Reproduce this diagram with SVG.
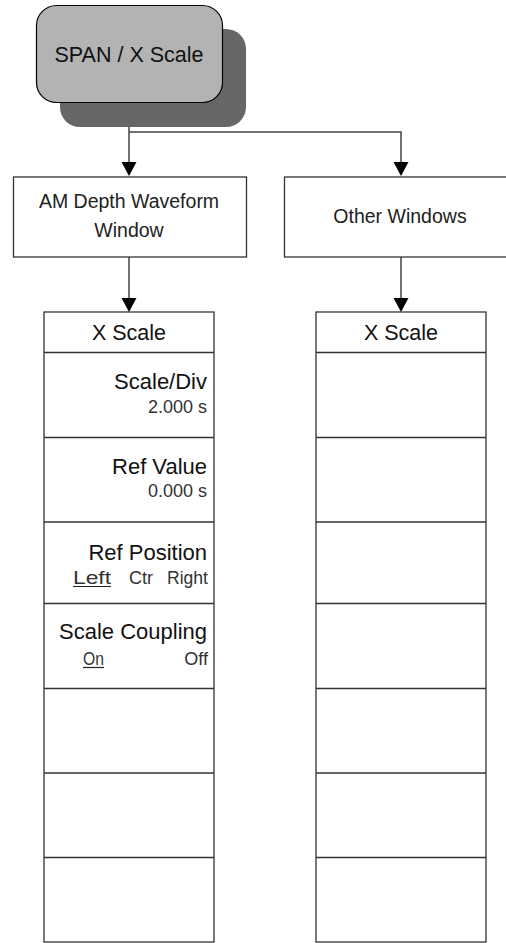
<svg xmlns="http://www.w3.org/2000/svg" width="506" height="943" viewBox="0 0 506 943">
<style>
  text { font-family: "Liberation Sans", Arial, sans-serif; fill: #111; }
  .box { fill: #fff; stroke: #333; stroke-width: 1.3; }
  .div { stroke: #333; stroke-width: 1.3; }
  .conn { fill: none; stroke: #444; stroke-width: 1.5; }
  .lbl { font-size: 22px; text-anchor: end; }
  .val { font-size: 18px; fill: #333; }
  .hdr { font-size: 21.5px; text-anchor: middle; }
  .win { font-size: 19.5px; text-anchor: middle; fill: #222; }
  .ul { stroke: #222; stroke-width: 1.2; }
</style>
<defs>
  <marker id="arr" markerUnits="userSpaceOnUse" markerWidth="16" markerHeight="15" refX="7.5" refY="14" orient="auto-start-reverse" viewBox="0 0 15 14">
    <path d="M0,0 L15,0 L7.5,14 Z" fill="#000"/>
  </marker>
</defs>
<rect width="506" height="943" fill="#fff"/>

<g id="connectors">
  <path class="conn" d="M129,102 V162"/>
  <path d="M121.5,162 L136.5,162 L129,176 Z" fill="#000"/>
  <path class="conn" d="M129,132 H401 V162"/>
  <path d="M393.5,162 L408.5,162 L401,176 Z" fill="#000"/>
  <path class="conn" d="M129,257 V298"/>
  <path d="M121.5,298 L136.5,298 L129,312 Z" fill="#000"/>
  <path class="conn" d="M401,257 V298"/>
  <path d="M393.5,298 L408.5,298 L401,312 Z" fill="#000"/>
</g>

<g id="span-x-scale">
  <rect x="60" y="29" width="186" height="98" rx="20" fill="#666"/>
  <rect x="36.5" y="5.5" width="186" height="97" rx="20" fill="#b3b3b3" stroke="#000" stroke-width="1.2"/>
  <text x="129" y="62" font-size="21.5" text-anchor="middle">SPAN / X Scale</text>
</g>

<g id="am-depth-window">
  <rect class="box" x="13.5" y="177" width="233" height="80"/>
  <text class="win" x="129" y="208">AM Depth Waveform</text>
  <text class="win" x="129" y="237">Window</text>
</g>

<g id="other-windows">
  <rect class="box" x="284.5" y="177" width="233" height="80"/>
  <text class="win" x="400" y="223">Other Windows</text>
</g>

<g id="x-scale-left">
  <rect class="box" x="44" y="312" width="170" height="630"/>
  <line class="div" x1="44" y1="352.5" x2="214" y2="352.5"/>
  <line class="div" x1="44" y1="437.5" x2="214" y2="437.5"/>
  <line class="div" x1="44" y1="522" x2="214" y2="522"/>
  <line class="div" x1="44" y1="603.5" x2="214" y2="603.5"/>
  <line class="div" x1="44" y1="688.5" x2="214" y2="688.5"/>
  <line class="div" x1="44" y1="773" x2="214" y2="773"/>
  <line class="div" x1="44" y1="857.5" x2="214" y2="857.5"/>
  <text class="hdr" x="129" y="340">X Scale</text>
  <text class="lbl" x="207" y="389">Scale/Div</text>
  <text class="val" x="207" y="413" text-anchor="end">2.000 s</text>
  <text class="lbl" x="207" y="474">Ref Value</text>
  <text class="val" x="207" y="497" text-anchor="end">0.000 s</text>
  <text class="lbl" x="207" y="560">Ref Position</text>
  <text class="val" x="73" y="584" textLength="38" lengthAdjust="spacingAndGlyphs">Left</text>
  <line class="ul" x1="73" y1="586.5" x2="111" y2="586.5"/>
  <text class="val" x="129" y="584" textLength="24" lengthAdjust="spacingAndGlyphs">Ctr</text>
  <text class="val" x="167" y="584" textLength="41" lengthAdjust="spacingAndGlyphs">Right</text>
  <text class="lbl" x="207" y="639">Scale Coupling</text>
  <text class="val" x="83" y="665" textLength="21" lengthAdjust="spacingAndGlyphs">On</text>
  <line class="ul" x1="83" y1="667.5" x2="104" y2="667.5"/>
  <text class="val" x="208" y="665" text-anchor="end">Off</text>
</g>

<g id="x-scale-right">
  <rect class="box" x="316" y="312" width="170" height="630"/>
  <line class="div" x1="316" y1="352.5" x2="486" y2="352.5"/>
  <line class="div" x1="316" y1="437.5" x2="486" y2="437.5"/>
  <line class="div" x1="316" y1="522" x2="486" y2="522"/>
  <line class="div" x1="316" y1="603.5" x2="486" y2="603.5"/>
  <line class="div" x1="316" y1="688.5" x2="486" y2="688.5"/>
  <line class="div" x1="316" y1="773" x2="486" y2="773"/>
  <line class="div" x1="316" y1="857.5" x2="486" y2="857.5"/>
  <text class="hdr" x="401" y="340">X Scale</text>
</g>
</svg>
